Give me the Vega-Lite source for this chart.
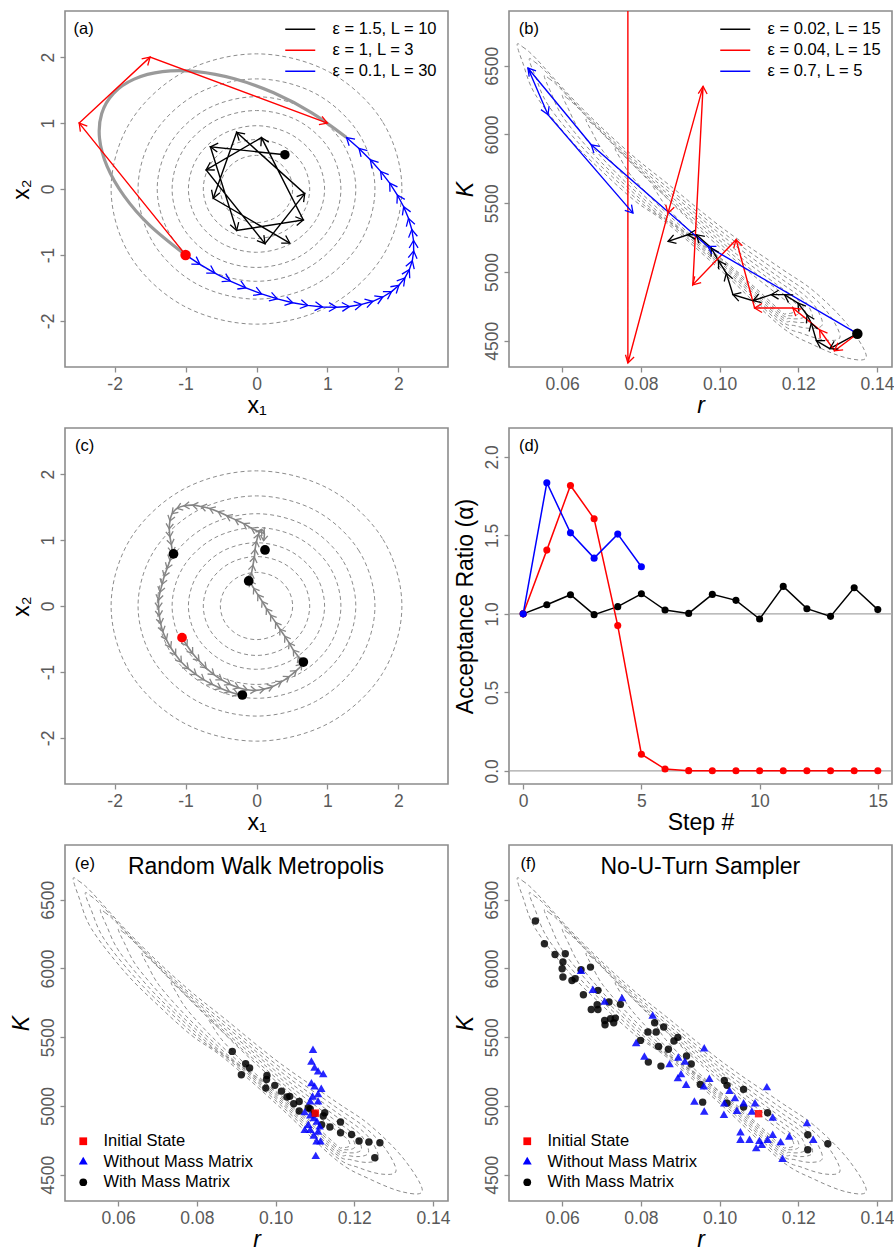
{
"$schema": "https://vega.github.io/schema/vega-lite/v6.json",
"background": "white",
"padding": {"left": 9, "top": 10, "right": 6, "bottom": 2},
"columns": 2,
"spacing": {"row": 61, "column": 61},
"bounds": "flush",
"resolve": {"scale": {"color": "independent", "shape": "independent"}, "legend": {"color": "independent", "shape": "independent"}},
"config": {
  "font": "Liberation Sans",
  "view": {"stroke": "#8c8c8c", "strokeWidth": 1.6},
  "axis": {"domain": false, "grid": false, "tickColor": "#8c8c8c", "tickSize": 5, "tickWidth": 1.3, "labelFont": "Liberation Sans", "labelFontSize": 17.5, "labelColor": "#595959", "labelPadding": 3, "labelFlush": false, "labelOverlap": false, "titleFont": "Liberation Sans", "titleFontSize": 23, "titleFontWeight": "normal", "titleColor": "#000000"},
  "axisX": {"titlePadding": 2},
  "axisY": {"labelAngle": -90, "labelAlign": "center", "labelBaseline": "bottom", "labelPadding": 3, "titlePadding": 6},
  "legend": {"labelFont": "Liberation Sans", "labelColor": "#000000"}
},
"datasets": {
  "circles": [
    {"c":1,"i":0,"x":2.05,"y":0},{"c":1,"i":1,"x":1.775,"y":1.025},{"c":1,"i":2,"x":1.025,"y":1.775},{"c":1,"i":3,"x":0,"y":2.05},{"c":1,"i":4,"x":-1.025,"y":1.775},{"c":1,"i":5,"x":-1.775,"y":1.025},{"c":1,"i":6,"x":-2.05,"y":0},{"c":1,"i":7,"x":-1.775,"y":-1.025},{"c":1,"i":8,"x":-1.025,"y":-1.775},{"c":1,"i":9,"x":0,"y":-2.05},{"c":1,"i":10,"x":1.025,"y":-1.775},{"c":1,"i":11,"x":1.775,"y":-1.025},
    {"c":2,"i":0,"x":1.67,"y":0},{"c":2,"i":1,"x":1.446,"y":0.835},{"c":2,"i":2,"x":0.835,"y":1.446},{"c":2,"i":3,"x":0,"y":1.67},{"c":2,"i":4,"x":-0.835,"y":1.446},{"c":2,"i":5,"x":-1.446,"y":0.835},{"c":2,"i":6,"x":-1.67,"y":0},{"c":2,"i":7,"x":-1.446,"y":-0.835},{"c":2,"i":8,"x":-0.835,"y":-1.446},{"c":2,"i":9,"x":0,"y":-1.67},{"c":2,"i":10,"x":0.835,"y":-1.446},{"c":2,"i":11,"x":1.446,"y":-0.835},
    {"c":3,"i":0,"x":1.4,"y":0},{"c":3,"i":1,"x":1.212,"y":0.7},{"c":3,"i":2,"x":0.7,"y":1.212},{"c":3,"i":3,"x":0,"y":1.4},{"c":3,"i":4,"x":-0.7,"y":1.212},{"c":3,"i":5,"x":-1.212,"y":0.7},{"c":3,"i":6,"x":-1.4,"y":0},{"c":3,"i":7,"x":-1.212,"y":-0.7},{"c":3,"i":8,"x":-0.7,"y":-1.212},{"c":3,"i":9,"x":0,"y":-1.4},{"c":3,"i":10,"x":0.7,"y":-1.212},{"c":3,"i":11,"x":1.212,"y":-0.7},
    {"c":4,"i":0,"x":1.19,"y":0},{"c":4,"i":1,"x":1.031,"y":0.595},{"c":4,"i":2,"x":0.595,"y":1.031},{"c":4,"i":3,"x":0,"y":1.19},{"c":4,"i":4,"x":-0.595,"y":1.031},{"c":4,"i":5,"x":-1.031,"y":0.595},{"c":4,"i":6,"x":-1.19,"y":0},{"c":4,"i":7,"x":-1.031,"y":-0.595},{"c":4,"i":8,"x":-0.595,"y":-1.031},{"c":4,"i":9,"x":0,"y":-1.19},{"c":4,"i":10,"x":0.595,"y":-1.031},{"c":4,"i":11,"x":1.031,"y":-0.595},
    {"c":5,"i":0,"x":0.96,"y":0},{"c":5,"i":1,"x":0.831,"y":0.48},{"c":5,"i":2,"x":0.48,"y":0.831},{"c":5,"i":3,"x":0,"y":0.96},{"c":5,"i":4,"x":-0.48,"y":0.831},{"c":5,"i":5,"x":-0.831,"y":0.48},{"c":5,"i":6,"x":-0.96,"y":0},{"c":5,"i":7,"x":-0.831,"y":-0.48},{"c":5,"i":8,"x":-0.48,"y":-0.831},{"c":5,"i":9,"x":0,"y":-0.96},{"c":5,"i":10,"x":0.48,"y":-0.831},{"c":5,"i":11,"x":0.831,"y":-0.48},
    {"c":6,"i":0,"x":0.75,"y":0},{"c":6,"i":1,"x":0.65,"y":0.375},{"c":6,"i":2,"x":0.375,"y":0.65},{"c":6,"i":3,"x":0,"y":0.75},{"c":6,"i":4,"x":-0.375,"y":0.65},{"c":6,"i":5,"x":-0.65,"y":0.375},{"c":6,"i":6,"x":-0.75,"y":0},{"c":6,"i":7,"x":-0.65,"y":-0.375},{"c":6,"i":8,"x":-0.375,"y":-0.65},{"c":6,"i":9,"x":0,"y":-0.75},{"c":6,"i":10,"x":0.375,"y":-0.65},{"c":6,"i":11,"x":0.65,"y":-0.375},
    {"c":7,"i":0,"x":0.51,"y":0},{"c":7,"i":1,"x":0.442,"y":0.255},{"c":7,"i":2,"x":0.255,"y":0.442},{"c":7,"i":3,"x":0,"y":0.51},{"c":7,"i":4,"x":-0.255,"y":0.442},{"c":7,"i":5,"x":-0.442,"y":0.255},{"c":7,"i":6,"x":-0.51,"y":0},{"c":7,"i":7,"x":-0.442,"y":-0.255},{"c":7,"i":8,"x":-0.255,"y":-0.442},{"c":7,"i":9,"x":0,"y":-0.51},{"c":7,"i":10,"x":0.255,"y":-0.442},{"c":7,"i":11,"x":0.442,"y":-0.255}
  ],
  "banana": [
    {"c":1,"i":0,"r":0.04857,"K":6652.7},{"c":1,"i":1,"r":0.05002,"K":6636.0},{"c":1,"i":2,"r":0.05322,"K":6556.0},{"c":1,"i":3,"r":0.0617,"K":6289.1},{"c":1,"i":4,"r":0.07016,"K":6046.9},{"c":1,"i":5,"r":0.07864,"K":5828.7},{"c":1,"i":6,"r":0.0871,"K":5634.5},{"c":1,"i":7,"r":0.10106,"K":5312.3},{"c":1,"i":8,"r":0.11544,"K":5028.7},{"c":1,"i":9,"r":0.12392,"K":4861.4},{"c":1,"i":10,"r":0.13238,"K":4621.4},{"c":1,"i":11,"r":0.13728,"K":4386.5},{"c":1,"i":12,"r":0.13238,"K":4374.2},{"c":1,"i":13,"r":0.12392,"K":4468.7},{"c":1,"i":14,"r":0.11544,"K":4606.9},{"c":1,"i":15,"r":0.10106,"K":4992.3},{"c":1,"i":16,"r":0.0871,"K":5343.6},{"c":1,"i":17,"r":0.07864,"K":5513.8},{"c":1,"i":18,"r":0.07016,"K":5732.0},{"c":1,"i":19,"r":0.0617,"K":5974.2},{"c":1,"i":20,"r":0.05322,"K":6289.1},{"c":1,"i":21,"r":0.05002,"K":6519.6},
    {"c":2,"i":0,"r":0.051636,"K":6545.7},{"c":2,"i":1,"r":0.052964,"K":6529.1},{"c":2,"i":2,"r":0.055986,"K":6452.8},{"c":2,"i":3,"r":0.064146,"K":6202.0},{"c":2,"i":4,"r":0.072219,"K":5973.4},{"c":2,"i":5,"r":0.080289,"K":5766.5},{"c":2,"i":6,"r":0.088293,"K":5580.2},{"c":2,"i":7,"r":0.101485,"K":5273.1},{"c":2,"i":8,"r":0.115002,"K":4998.2},{"c":2,"i":9,"r":0.122381,"K":4851.8},{"c":2,"i":10,"r":0.127786,"K":4693.0},{"c":2,"i":11,"r":0.130599,"K":4528.4},{"c":2,"i":12,"r":0.126921,"K":4504.7},{"c":2,"i":13,"r":0.121023,"K":4552.7},{"c":2,"i":14,"r":0.115228,"K":4633.6},{"c":2,"i":15,"r":0.102046,"K":4987.0},{"c":2,"i":16,"r":0.088785,"K":5320.0},{"c":2,"i":17,"r":0.080831,"K":5485.1},{"c":2,"i":18,"r":0.072763,"K":5691.9},{"c":2,"i":19,"r":0.064706,"K":5920.1},{"c":2,"i":20,"r":0.05644,"K":6214.3},{"c":2,"i":21,"r":0.053163,"K":6425.4},
    {"c":3,"i":0,"r":0.055466,"K":6422.9},{"c":3,"i":1,"r":0.056683,"K":6406.5},{"c":3,"i":2,"r":0.059512,"K":6334.9},{"c":3,"i":3,"r":0.067223,"K":6102.2},{"c":3,"i":4,"r":0.074821,"K":5889.1},{"c":3,"i":5,"r":0.082383,"K":5695.2},{"c":3,"i":6,"r":0.089852,"K":5519.9},{"c":3,"i":7,"r":0.102165,"K":5230.6},{"c":3,"i":8,"r":0.114719,"K":4969.5},{"c":3,"i":9,"r":0.121194,"K":4839.8},{"c":3,"i":10,"r":0.124614,"K":4734.9},{"c":3,"i":11,"r":0.126108,"K":4618.2},{"c":3,"i":12,"r":0.123322,"K":4589.8},{"c":3,"i":13,"r":0.119153,"K":4609.3},{"c":3,"i":14,"r":0.115175,"K":4654.0},{"c":3,"i":15,"r":0.103113,"K":4976.2},{"c":3,"i":16,"r":0.090699,"K":5288.4},{"c":3,"i":17,"r":0.083307,"K":5445.0},{"c":3,"i":18,"r":0.075747,"K":5638.8},{"c":3,"i":19,"r":0.068165,"K":5851.4},{"c":3,"i":20,"r":0.060292,"K":6122.8},{"c":3,"i":21,"r":0.057022,"K":6314.3},
    {"c":4,"i":0,"r":0.06004,"K":6282.9},{"c":4,"i":1,"r":0.061139,"K":6267.2},{"c":4,"i":2,"r":0.063744,"K":6201.2},{"c":4,"i":3,"r":0.070903,"K":5988.5},{"c":4,"i":4,"r":0.077932,"K":5793.1},{"c":4,"i":5,"r":0.0849,"K":5614.6},{"c":4,"i":6,"r":0.091759,"K":5452.2},{"c":4,"i":7,"r":0.103064,"K":5184.4},{"c":4,"i":8,"r":0.11454,"K":4941.0},{"c":4,"i":9,"r":0.120279,"K":4824.2},{"c":4,"i":10,"r":0.122686,"K":4748.0},{"c":4,"i":11,"r":0.123592,"K":4659.4},{"c":4,"i":12,"r":0.121395,"K":4632.5},{"c":4,"i":13,"r":0.118238,"K":4640.7},{"c":4,"i":14,"r":0.115278,"K":4668.9},{"c":4,"i":15,"r":0.10429,"K":4961.3},{"c":4,"i":16,"r":0.092859,"K":5249.2},{"c":4,"i":17,"r":0.086099,"K":5395.0},{"c":4,"i":18,"r":0.079132,"K":5573.5},{"c":4,"i":19,"r":0.072117,"K":5768.6},{"c":4,"i":20,"r":0.064756,"K":6015.2},{"c":4,"i":21,"r":0.061578,"K":6186.3},
    {"c":5,"i":0,"r":0.066035,"K":6106.8},{"c":5,"i":1,"r":0.066993,"K":6092.1},{"c":5,"i":2,"r":0.069312,"K":6033.3},{"c":5,"i":3,"r":0.075732,"K":5845.5},{"c":5,"i":4,"r":0.082014,"K":5672.3},{"c":5,"i":5,"r":0.088218,"K":5513.4},{"c":5,"i":6,"r":0.094305,"K":5368.2},{"c":5,"i":7,"r":0.104336,"K":5128.8},{"c":5,"i":8,"r":0.114475,"K":4909.5},{"c":5,"i":9,"r":0.119445,"K":4806.4},{"c":5,"i":10,"r":0.121193,"K":4750.1},{"c":5,"i":11,"r":0.12178,"K":4682.6},{"c":5,"i":12,"r":0.120073,"K":4659.8},{"c":5,"i":13,"r":0.117674,"K":4663.1},{"c":5,"i":14,"r":0.11545,"K":4682.0},{"c":5,"i":15,"r":0.105727,"K":4939.9},{"c":5,"i":16,"r":0.095558,"K":5196.3},{"c":5,"i":17,"r":0.089581,"K":5327.5},{"c":5,"i":18,"r":0.083378,"K":5486.4},{"c":5,"i":19,"r":0.077108,"K":5659.2},{"c":5,"i":20,"r":0.070464,"K":5875.8},{"c":5,"i":21,"r":0.067495,"K":6023.7},
    {"c":6,"i":0,"r":0.07345,"K":5894.3},{"c":6,"i":1,"r":0.074247,"K":5881.3},{"c":6,"i":2,"r":0.076216,"K":5831.4},{"c":6,"i":3,"r":0.081709,"K":5673.1},{"c":6,"i":4,"r":0.087067,"K":5526.7},{"c":6,"i":5,"r":0.092337,"K":5391.9},{"c":6,"i":6,"r":0.097488,"K":5267.9},{"c":6,"i":7,"r":0.105979,"K":5063.6},{"c":6,"i":8,"r":0.114522,"K":4875.3},{"c":6,"i":9,"r":0.118629,"K":4788.2},{"c":6,"i":10,"r":0.119807,"K":4749.4},{"c":6,"i":11,"r":0.120145,"K":4701.4},{"c":6,"i":12,"r":0.118903,"K":4683.3},{"c":6,"i":13,"r":0.117199,"K":4683.3},{"c":6,"i":14,"r":0.115637,"K":4694.8},{"c":6,"i":15,"r":0.107425,"K":4911.6},{"c":6,"i":16,"r":0.098794,"K":5129.7},{"c":6,"i":17,"r":0.093754,"K":5242.3},{"c":6,"i":18,"r":0.088485,"K":5377.1},{"c":6,"i":19,"r":0.083138,"K":5523.3},{"c":6,"i":20,"r":0.077415,"K":5704.7},{"c":6,"i":21,"r":0.074769,"K":5826.2},
    {"c":7,"i":0,"r":0.082996,"K":5627.4},{"c":7,"i":1,"r":0.083601,"K":5616.9},{"c":7,"i":2,"r":0.085124,"K":5578.2},{"c":7,"i":3,"r":0.089411,"K":5456.8},{"c":7,"i":4,"r":0.093576,"K":5344.1},{"c":7,"i":5,"r":0.097656,"K":5239.5},{"c":7,"i":6,"r":0.10163,"K":5143.2},{"c":7,"i":7,"r":0.10818,"K":4984.3},{"c":7,"i":8,"r":0.114737,"K":4836.7},{"c":7,"i":9,"r":0.117852,"K":4769.0},{"c":7,"i":10,"r":0.118638,"K":4743.0},{"c":7,"i":11,"r":0.118863,"K":4711.1},{"c":7,"i":12,"r":0.118035,"K":4699.1},{"c":7,"i":13,"r":0.116899,"K":4699.0},{"c":7,"i":14,"r":0.115858,"K":4706.7},{"c":7,"i":15,"r":0.109514,"K":4873.5},{"c":7,"i":16,"r":0.102836,"K":5042.5},{"c":7,"i":17,"r":0.098965,"K":5130.6},{"c":7,"i":18,"r":0.094886,"K":5235.0},{"c":7,"i":19,"r":0.090728,"K":5347.5},{"c":7,"i":20,"r":0.086232,"K":5485.8},{"c":7,"i":21,"r":0.084082,"K":5576.7}
  ],
  "grayA": [
    {"i":0,"x":1.269,"y":0.78},{"i":1,"x":0.78,"y":1.155},{"i":2,"x":0.242,"y":1.459},{"i":3,"x":-0.311,"y":1.672},{"i":4,"x":-0.845,"y":1.781},{"i":5,"x":-1.326,"y":1.78},{"i":6,"x":-1.725,"y":1.667},{"i":7,"x":-2.016,"y":1.451},{"i":8,"x":-2.182,"y":1.145},{"i":9,"x":-2.213,"y":0.768},{"i":10,"x":-2.106,"y":0.343},{"i":11,"x":-1.868,"y":-0.104},{"i":12,"x":-1.513,"y":-0.544},{"i":13,"x":-1,"y":-1}
  ],
  "pathsA": [
    {"s":"ε = 1.5, L = 10","i":0,"x":0.4,"y":0.52},{"s":"ε = 1.5, L = 10","i":1,"x":-0.65,"y":0.64},{"s":"ε = 1.5, L = 10","i":2,"x":-0.28,"y":-0.63},{"s":"ε = 1.5, L = 10","i":3,"x":0.66,"y":-0.47},{"s":"ε = 1.5, L = 10","i":4,"x":0.07,"y":0.78},{"s":"ε = 1.5, L = 10","i":5,"x":-0.71,"y":0.29},{"s":"ε = 1.5, L = 10","i":6,"x":0.12,"y":-0.83},{"s":"ε = 1.5, L = 10","i":7,"x":0.68,"y":-0.07},{"s":"ε = 1.5, L = 10","i":8,"x":-0.28,"y":0.86},{"s":"ε = 1.5, L = 10","i":9,"x":-0.61,"y":-0.14},{"s":"ε = 1.5, L = 10","i":10,"x":0.47,"y":-0.82},
    {"s":"ε = 1, L = 3","i":0,"x":-1,"y":-1},{"s":"ε = 1, L = 3","i":1,"x":-2.5,"y":1},{"s":"ε = 1, L = 3","i":2,"x":-1.5,"y":2},{"s":"ε = 1, L = 3","i":3,"x":1,"y":1},
    {"s":"ε = 0.1, L = 30","i":0,"x":-1,"y":-1},{"s":"ε = 0.1, L = 30","i":1,"x":-0.797,"y":-1.144},{"s":"ε = 0.1, L = 30","i":2,"x":-0.587,"y":-1.276},{"s":"ε = 0.1, L = 30","i":3,"x":-0.37,"y":-1.396},{"s":"ε = 0.1, L = 30","i":4,"x":-0.15,"y":-1.501},{"s":"ε = 0.1, L = 30","i":5,"x":0.072,"y":-1.592},{"s":"ε = 0.1, L = 30","i":6,"x":0.293,"y":-1.667},{"s":"ε = 0.1, L = 30","i":7,"x":0.511,"y":-1.725},{"s":"ε = 0.1, L = 30","i":8,"x":0.724,"y":-1.766},{"s":"ε = 0.1, L = 30","i":9,"x":0.929,"y":-1.789},{"s":"ε = 0.1, L = 30","i":10,"x":1.126,"y":-1.794},{"s":"ε = 0.1, L = 30","i":11,"x":1.311,"y":-1.782},{"s":"ε = 0.1, L = 30","i":12,"x":1.483,"y":-1.751},{"s":"ε = 0.1, L = 30","i":13,"x":1.64,"y":-1.703},{"s":"ε = 0.1, L = 30","i":14,"x":1.781,"y":-1.638},{"s":"ε = 0.1, L = 30","i":15,"x":1.904,"y":-1.557},{"s":"ε = 0.1, L = 30","i":16,"x":2.008,"y":-1.46},{"s":"ε = 0.1, L = 30","i":17,"x":2.092,"y":-1.349},{"s":"ε = 0.1, L = 30","i":18,"x":2.155,"y":-1.224},{"s":"ε = 0.1, L = 30","i":19,"x":2.197,"y":-1.087},{"s":"ε = 0.1, L = 30","i":20,"x":2.216,"y":-0.939},{"s":"ε = 0.1, L = 30","i":21,"x":2.214,"y":-0.781},{"s":"ε = 0.1, L = 30","i":22,"x":2.19,"y":-0.616},{"s":"ε = 0.1, L = 30","i":23,"x":2.143,"y":-0.445},{"s":"ε = 0.1, L = 30","i":24,"x":2.075,"y":-0.269},{"s":"ε = 0.1, L = 30","i":25,"x":1.986,"y":-0.091},{"s":"ε = 0.1, L = 30","i":26,"x":1.878,"y":0.089},{"s":"ε = 0.1, L = 30","i":27,"x":1.75,"y":0.267},{"s":"ε = 0.1, L = 30","i":28,"x":1.605,"y":0.443},{"s":"ε = 0.1, L = 30","i":29,"x":1.445,"y":0.615},{"s":"ε = 0.1, L = 30","i":30,"x":1.269,"y":0.78}
  ],
  "pathsB": [
    {"s":"ε = 0.02, L = 15","i":0,"r":0.135,"K":4551},{"s":"ε = 0.02, L = 15","i":1,"r":0.128,"K":4442},{"s":"ε = 0.02, L = 15","i":2,"r":0.1246,"K":4500},{"s":"ε = 0.02, L = 15","i":3,"r":0.1233,"K":4628},{"s":"ε = 0.02, L = 15","i":4,"r":0.1222,"K":4689},{"s":"ε = 0.02, L = 15","i":5,"r":0.1199,"K":4774},{"s":"ε = 0.02, L = 15","i":6,"r":0.1165,"K":4835},{"s":"ε = 0.02, L = 15","i":7,"r":0.1131,"K":4835},{"s":"ε = 0.02, L = 15","i":8,"r":0.1085,"K":4791},{"s":"ε = 0.02, L = 15","i":9,"r":0.1034,"K":4835},{"s":"ε = 0.02, L = 15","i":10,"r":0.1017,"K":4992},{"s":"ε = 0.02, L = 15","i":11,"r":0.0997,"K":5082},{"s":"ε = 0.02, L = 15","i":12,"r":0.0979,"K":5174},{"s":"ε = 0.02, L = 15","i":13,"r":0.0941,"K":5271},{"s":"ε = 0.02, L = 15","i":14,"r":0.0919,"K":5271},{"s":"ε = 0.02, L = 15","i":15,"r":0.0869,"K":5222},
    {"s":"ε = 0.04, L = 15","i":0,"r":0.135,"K":4551},{"s":"ε = 0.04, L = 15","i":1,"r":0.1292,"K":4427},{"s":"ε = 0.04, L = 15","i":2,"r":0.1254,"K":4580},{"s":"ε = 0.04, L = 15","i":3,"r":0.1186,"K":4738},{"s":"ε = 0.04, L = 15","i":4,"r":0.1089,"K":4738},{"s":"ε = 0.04, L = 15","i":5,"r":0.1042,"K":5235},{"s":"ε = 0.04, L = 15","i":6,"r":0.0932,"K":4907},{"s":"ε = 0.04, L = 15","i":7,"r":0.0958,"K":6350},{"s":"ε = 0.04, L = 15","i":8,"r":0.0869,"K":5428},{"s":"ε = 0.04, L = 15","i":9,"r":0.0767,"K":4338},{"s":"ε = 0.04, L = 15","i":10,"r":0.0767,"K":9500},
    {"s":"ε = 0.7, L = 5","i":0,"r":0.135,"K":4551},{"s":"ε = 0.7, L = 5","i":1,"r":0.097,"K":5186},{"s":"ε = 0.7, L = 5","i":2,"r":0.0674,"K":5925},{"s":"ε = 0.7, L = 5","i":3,"r":0.0513,"K":6483},{"s":"ε = 0.7, L = 5","i":4,"r":0.0564,"K":6144},{"s":"ε = 0.7, L = 5","i":5,"r":0.078,"K":5428}
  ],
  "pathsC": [
    {"s":"p1","i":0,"x":-1.05,"y":-0.48},{"s":"p1","i":1,"x":-0.98,"y":-0.6},{"s":"p1","i":2,"x":-0.9,"y":-0.72},{"s":"p1","i":3,"x":-0.81,"y":-0.83},{"s":"p1","i":4,"x":-0.71,"y":-0.94},{"s":"p1","i":5,"x":-0.6,"y":-1.04},{"s":"p1","i":6,"x":-0.49,"y":-1.12},{"s":"p1","i":7,"x":-0.37,"y":-1.19},{"s":"p1","i":8,"x":-0.25,"y":-1.24},{"s":"p1","i":9,"x":-0.13,"y":-1.27},{"s":"p1","i":10,"x":-0.01,"y":-1.28},{"s":"p1","i":11,"x":0.11,"y":-1.26},{"s":"p1","i":12,"x":0.23,"y":-1.22},{"s":"p1","i":13,"x":0.35,"y":-1.15},{"s":"p1","i":14,"x":0.46,"y":-1.07},{"s":"p1","i":15,"x":0.56,"y":-0.98},{"s":"p1","i":16,"x":0.64,"y":-0.88},{"s":"p1","i":17,"x":0.59,"y":-0.77},{"s":"p1","i":18,"x":0.52,"y":-0.67},{"s":"p1","i":19,"x":0.46,"y":-0.56},{"s":"p1","i":20,"x":0.4,"y":-0.46},{"s":"p1","i":21,"x":0.33,"y":-0.35},{"s":"p1","i":22,"x":0.27,"y":-0.25},{"s":"p1","i":23,"x":0.2,"y":-0.14},{"s":"p1","i":24,"x":0.14,"y":-0.04},{"s":"p1","i":25,"x":0.08,"y":0.07},{"s":"p1","i":26,"x":0.02,"y":0.17},{"s":"p1","i":27,"x":-0.04,"y":0.27},{"s":"p1","i":28,"x":-0.09,"y":0.38},{"s":"p1","i":29,"x":-0.07,"y":0.5},{"s":"p1","i":30,"x":-0.05,"y":0.62},{"s":"p1","i":31,"x":-0.03,"y":0.74},{"s":"p1","i":32,"x":-0.02,"y":0.86},{"s":"p1","i":33,"x":0,"y":0.98},{"s":"p1","i":34,"x":0.03,"y":1.09},{"s":"p1","i":35,"x":0.07,"y":1.16},{"s":"p1","i":36,"x":0.11,"y":1.1},{"s":"p1","i":37,"x":0.1,"y":0.99},
    {"s":"p2","i":0,"x":0.04,"y":1.12},{"s":"p2","i":1,"x":-0.07,"y":1.18},{"s":"p2","i":2,"x":-0.18,"y":1.25},{"s":"p2","i":3,"x":-0.3,"y":1.31},{"s":"p2","i":4,"x":-0.42,"y":1.37},{"s":"p2","i":5,"x":-0.54,"y":1.43},{"s":"p2","i":6,"x":-0.66,"y":1.48},{"s":"p2","i":7,"x":-0.78,"y":1.51},{"s":"p2","i":8,"x":-0.9,"y":1.53},{"s":"p2","i":9,"x":-1.02,"y":1.52},{"s":"p2","i":10,"x":-1.12,"y":1.48},{"s":"p2","i":11,"x":-1.19,"y":1.4},{"s":"p2","i":12,"x":-1.22,"y":1.29},{"s":"p2","i":13,"x":-1.23,"y":1.17},{"s":"p2","i":14,"x":-1.22,"y":1.05},{"s":"p2","i":15,"x":-1.2,"y":0.93},{"s":"p2","i":16,"x":-1.19,"y":0.81},{"s":"p2","i":17,"x":-1.22,"y":0.69},{"s":"p2","i":18,"x":-1.26,"y":0.57},{"s":"p2","i":19,"x":-1.3,"y":0.45},{"s":"p2","i":20,"x":-1.33,"y":0.33},{"s":"p2","i":21,"x":-1.36,"y":0.21},{"s":"p2","i":22,"x":-1.38,"y":0.09},{"s":"p2","i":23,"x":-1.38,"y":-0.03},{"s":"p2","i":24,"x":-1.37,"y":-0.15},{"s":"p2","i":25,"x":-1.35,"y":-0.27},{"s":"p2","i":26,"x":-1.32,"y":-0.39},{"s":"p2","i":27,"x":-1.27,"y":-0.51},{"s":"p2","i":28,"x":-1.21,"y":-0.63},{"s":"p2","i":29,"x":-1.14,"y":-0.74},{"s":"p2","i":30,"x":-1.06,"y":-0.85},{"s":"p2","i":31,"x":-0.96,"y":-0.95},{"s":"p2","i":32,"x":-0.85,"y":-1.04},{"s":"p2","i":33,"x":-0.74,"y":-1.12},{"s":"p2","i":34,"x":-0.62,"y":-1.19},{"s":"p2","i":35,"x":-0.5,"y":-1.25},{"s":"p2","i":36,"x":-0.38,"y":-1.3},{"s":"p2","i":37,"x":-0.26,"y":-1.34}
  ],
  "acc": [
    {"s":"b","step":0,"a":1.0},{"s":"b","step":1,"a":1.058},{"s":"b","step":2,"a":1.122},{"s":"b","step":3,"a":0.995},{"s":"b","step":4,"a":1.046},{"s":"b","step":5,"a":1.128},{"s":"b","step":6,"a":1.024},{"s":"b","step":7,"a":1.003},{"s":"b","step":8,"a":1.124},{"s":"b","step":9,"a":1.086},{"s":"b","step":10,"a":0.967},{"s":"b","step":11,"a":1.175},{"s":"b","step":12,"a":1.033},{"s":"b","step":13,"a":0.984},{"s":"b","step":14,"a":1.166},{"s":"b","step":15,"a":1.027},
    {"s":"r","step":0,"a":1.0},{"s":"r","step":1,"a":1.406},{"s":"r","step":2,"a":1.818},{"s":"r","step":3,"a":1.606},{"s":"r","step":4,"a":0.925},{"s":"r","step":5,"a":0.106},{"s":"r","step":6,"a":0.011},{"s":"r","step":7,"a":0.001},{"s":"r","step":8,"a":0.0},{"s":"r","step":9,"a":0.0},{"s":"r","step":10,"a":0.0},{"s":"r","step":11,"a":0.0},{"s":"r","step":12,"a":0.0},{"s":"r","step":13,"a":0.0},{"s":"r","step":14,"a":0.0},{"s":"r","step":15,"a":0.0},
    {"s":"u","step":0,"a":1.0},{"s":"u","step":1,"a":1.835},{"s":"u","step":2,"a":1.516},{"s":"u","step":3,"a":1.355},{"s":"u","step":4,"a":1.508},{"s":"u","step":5,"a":1.3}
  ],
  "rwm": [
    {"g":"With Mass Matrix","r":0.089,"K":5397},{"g":"With Mass Matrix","r":0.0924,"K":5307},{"g":"With Mass Matrix","r":0.0934,"K":5276},{"g":"With Mass Matrix","r":0.0913,"K":5227},{"g":"With Mass Matrix","r":0.0978,"K":5222},{"g":"With Mass Matrix","r":0.0977,"K":5193},{"g":"With Mass Matrix","r":0.0975,"K":5130},{"g":"With Mass Matrix","r":0.0998,"K":5150},{"g":"With Mass Matrix","r":0.1015,"K":5108},{"g":"With Mass Matrix","r":0.1029,"K":5065},{"g":"With Mass Matrix","r":0.1036,"K":5070},{"g":"With Mass Matrix","r":0.1046,"K":5016},{"g":"With Mass Matrix","r":0.106,"K":5033},{"g":"With Mass Matrix","r":0.106,"K":4963},{"g":"With Mass Matrix","r":0.1083,"K":4987},{"g":"With Mass Matrix","r":0.1088,"K":4978},{"g":"With Mass Matrix","r":0.1099,"K":4944},{"g":"With Mass Matrix","r":0.1125,"K":4951},{"g":"With Mass Matrix","r":0.1121,"K":4927},{"g":"With Mass Matrix","r":0.1117,"K":4864},{"g":"With Mass Matrix","r":0.1138,"K":4847},{"g":"With Mass Matrix","r":0.1165,"K":4883},{"g":"With Mass Matrix","r":0.1165,"K":4805},{"g":"With Mass Matrix","r":0.1193,"K":4793},{"g":"With Mass Matrix","r":0.1212,"K":4745},{"g":"With Mass Matrix","r":0.1237,"K":4738},{"g":"With Mass Matrix","r":0.1265,"K":4733},{"g":"With Mass Matrix","r":0.1252,"K":4624},
    {"g":"Without Mass Matrix","r":0.1095,"K":5404},{"g":"Without Mass Matrix","r":0.1091,"K":5319},{"g":"Without Mass Matrix","r":0.1099,"K":5276},{"g":"Without Mass Matrix","r":0.1108,"K":5247},{"g":"Without Mass Matrix","r":0.1121,"K":5227},{"g":"Without Mass Matrix","r":0.1091,"K":5162},{"g":"Without Mass Matrix","r":0.1099,"K":5138},{"g":"Without Mass Matrix","r":0.1116,"K":5121},{"g":"Without Mass Matrix","r":0.1108,"K":5082},{"g":"Without Mass Matrix","r":0.1094,"K":5065},{"g":"Without Mass Matrix","r":0.1088,"K":5029},{"g":"Without Mass Matrix","r":0.1108,"K":5029},{"g":"Without Mass Matrix","r":0.1074,"K":4951},{"g":"Without Mass Matrix","r":0.1088,"K":4927},{"g":"Without Mass Matrix","r":0.1097,"K":4907},{"g":"Without Mass Matrix","r":0.1105,"K":4883},{"g":"Without Mass Matrix","r":0.1083,"K":4859},{"g":"Without Mass Matrix","r":0.1112,"K":4847},{"g":"Without Mass Matrix","r":0.1088,"K":4822},{"g":"Without Mass Matrix","r":0.1108,"K":4810},{"g":"Without Mass Matrix","r":0.1097,"K":4781},{"g":"Without Mass Matrix","r":0.1114,"K":4738},{"g":"Without Mass Matrix","r":0.1104,"K":4738},{"g":"Without Mass Matrix","r":0.1102,"K":4633},{"g":"Without Mass Matrix","r":0.1074,"K":4822},
    {"g":"Initial State","r":0.1101,"K":4948}
  ],
  "nuts": [
    {"g":"With Mass Matrix","r":0.0532,"K":6345},{"g":"With Mass Matrix","r":0.0555,"K":6180},{"g":"With Mass Matrix","r":0.0582,"K":6102},{"g":"With Mass Matrix","r":0.0608,"K":6107},{"g":"With Mass Matrix","r":0.0602,"K":6047},{"g":"With Mass Matrix","r":0.06,"K":5998},{"g":"With Mass Matrix","r":0.0602,"K":5938},{"g":"With Mass Matrix","r":0.0625,"K":5913},{"g":"With Mass Matrix","r":0.0633,"K":5925},{"g":"With Mass Matrix","r":0.0648,"K":5991},{"g":"With Mass Matrix","r":0.0672,"K":6010},{"g":"With Mass Matrix","r":0.0654,"K":5809},{"g":"With Mass Matrix","r":0.0691,"K":5841},{"g":"With Mass Matrix","r":0.0689,"K":5736},{"g":"With Mass Matrix","r":0.0674,"K":5702},{"g":"With Mass Matrix","r":0.0691,"K":5702},{"g":"With Mass Matrix","r":0.0719,"K":5756},{"g":"With Mass Matrix","r":0.0748,"K":5739},{"g":"With Mass Matrix","r":0.0708,"K":5622},{"g":"With Mass Matrix","r":0.0709,"K":5591},{"g":"With Mass Matrix","r":0.0723,"K":5635},{"g":"With Mass Matrix","r":0.0731,"K":5605},{"g":"With Mass Matrix","r":0.0735,"K":5639},{"g":"With Mass Matrix","r":0.0799,"K":5477},{"g":"With Mass Matrix","r":0.0818,"K":5538},{"g":"With Mass Matrix","r":0.0835,"K":5605},{"g":"With Mass Matrix","r":0.0839,"K":5538},{"g":"With Mass Matrix","r":0.0858,"K":5574},{"g":"With Mass Matrix","r":0.0845,"K":5433},{"g":"With Mass Matrix","r":0.087,"K":5412},{"g":"With Mass Matrix","r":0.0851,"K":5290},{"g":"With Mass Matrix","r":0.0819,"K":5319},{"g":"With Mass Matrix","r":0.0884,"K":5472},{"g":"With Mass Matrix","r":0.0894,"K":5499},{"g":"With Mass Matrix","r":0.0916,"K":5363},{"g":"With Mass Matrix","r":0.0928,"K":5305},{"g":"With Mass Matrix","r":0.0951,"K":5157},{"g":"With Mass Matrix","r":0.0957,"K":5028},{"g":"With Mass Matrix","r":0.1012,"K":5186},{"g":"With Mass Matrix","r":0.1019,"K":5150},{"g":"With Mass Matrix","r":0.1019,"K":5021},{"g":"With Mass Matrix","r":0.1061,"K":5121},{"g":"With Mass Matrix","r":0.1061,"K":4992},{"g":"With Mass Matrix","r":0.1122,"K":4951},{"g":"With Mass Matrix","r":0.1224,"K":4791},{"g":"With Mass Matrix","r":0.1224,"K":4682},{"g":"With Mass Matrix","r":0.1275,"K":4725},
    {"g":"Without Mass Matrix","r":0.0648,"K":5979},{"g":"Without Mass Matrix","r":0.0678,"K":5841},{"g":"Without Mass Matrix","r":0.0708,"K":5756},{"g":"Without Mass Matrix","r":0.0752,"K":5780},{"g":"Without Mass Matrix","r":0.0788,"K":5453},{"g":"Without Mass Matrix","r":0.0809,"K":5356},{"g":"Without Mass Matrix","r":0.083,"K":5654},{"g":"Without Mass Matrix","r":0.0873,"K":5300},{"g":"Without Mass Matrix","r":0.0895,"K":5348},{"g":"Without Mass Matrix","r":0.0902,"K":5227},{"g":"Without Mass Matrix","r":0.0894,"K":5198},{"g":"Without Mass Matrix","r":0.0912,"K":5319},{"g":"Without Mass Matrix","r":0.0915,"K":5150},{"g":"Without Mass Matrix","r":0.0961,"K":5416},{"g":"Without Mass Matrix","r":0.0936,"K":5028},{"g":"Without Mass Matrix","r":0.0961,"K":4956},{"g":"Without Mass Matrix","r":0.096,"K":5138},{"g":"Without Mass Matrix","r":0.0974,"K":5193},{"g":"Without Mass Matrix","r":0.1011,"K":4932},{"g":"Without Mass Matrix","r":0.1012,"K":5016},{"g":"Without Mass Matrix","r":0.1025,"K":5106},{"g":"Without Mass Matrix","r":0.1039,"K":5053},{"g":"Without Mass Matrix","r":0.1044,"K":4961},{"g":"Without Mass Matrix","r":0.1053,"K":4805},{"g":"Without Mass Matrix","r":0.1053,"K":4750},{"g":"Without Mass Matrix","r":0.1061,"K":5016},{"g":"Without Mass Matrix","r":0.1076,"K":4750},{"g":"Without Mass Matrix","r":0.1082,"K":4956},{"g":"Without Mass Matrix","r":0.109,"K":5016},{"g":"Without Mass Matrix","r":0.1093,"K":4689},{"g":"Without Mass Matrix","r":0.1101,"K":4742},{"g":"Without Mass Matrix","r":0.1107,"K":4713},{"g":"Without Mass Matrix","r":0.112,"K":5133},{"g":"Without Mass Matrix","r":0.1122,"K":4750},{"g":"Without Mass Matrix","r":0.1135,"K":4912},{"g":"Without Mass Matrix","r":0.1135,"K":4786},{"g":"Without Mass Matrix","r":0.1155,"K":4733},{"g":"Without Mass Matrix","r":0.116,"K":4612},{"g":"Without Mass Matrix","r":0.1177,"K":4774},{"g":"Without Mass Matrix","r":0.1222,"K":4871},{"g":"Without Mass Matrix","r":0.1238,"K":4750},
    {"g":"Initial State","r":0.1099,"K":4944}
  ]
},
"concat": [
  {
    "width": 383, "height": 356,
    "layer": [
      {"data": {"name": "circles"},
       "mark": {"type": "line", "interpolate": "cardinal-closed", "color": "#8c8c8c", "strokeWidth": 1, "strokeDash": [4, 3], "clip": true},
       "encoding": {
         "x": {"field": "x", "type": "quantitative", "scale": {"domain": [-2.7, 2.7], "nice": false, "zero": false}, "axis": {"values": [-2, -1, 0, 1, 2], "format": "d", "title": "x₁", "labelExpr": "replace(datum.label, '−', '-')"}},
         "y": {"field": "y", "type": "quantitative", "scale": {"domain": [-2.7, 2.7], "nice": false, "zero": false}, "axis": {"values": [-2, -1, 0, 1, 2], "format": "d", "title": "x₂", "labelExpr": "replace(datum.label, '−', '-')"}},
         "detail": {"field": "c", "type": "nominal"},
         "order": {"field": "i", "type": "quantitative"}}},
      {"data": {"name": "grayA"},
       "mark": {"type": "line", "interpolate": "cardinal", "color": "#9a9a9a", "strokeWidth": 3.2, "clip": true},
       "encoding": {"x": {"field": "x", "type": "quantitative"}, "y": {"field": "y", "type": "quantitative"}, "order": {"field": "i", "type": "quantitative"}}},
      {"data": {"name": "pathsA"},
       "mark": {"type": "line", "strokeWidth": 1.4, "clip": true},
       "encoding": {"x": {"field": "x", "type": "quantitative"}, "y": {"field": "y", "type": "quantitative"},
         "color": {"field": "s", "type": "nominal", "scale": {"domain": ["ε = 1.5, L = 10", "ε = 1, L = 3", "ε = 0.1, L = 30"], "range": ["#000000", "#ff0000", "#0000ff"]},
           "legend": {"orient": "top-right", "title": null, "symbolType": "M-3,0L3,0", "symbolSize": 100, "symbolStrokeWidth": 1.5, "labelFontSize": 16.5, "labelOffset": 24, "rowPadding": 4, "offset": 8, "padding": 2}},
         "order": {"field": "i", "type": "quantitative"}}},
      {"data": {"name": "pathsA"},
       "transform": [
         {"window": [{"op": "lag", "field": "x", "as": "px"}, {"op": "lag", "field": "y", "as": "py"}], "groupby": ["s"], "sort": [{"field": "i", "order": "ascending"}]},
         {"filter": "isValid(datum.px)"},
         {"calculate": "atan2(-(datum.y - datum.py) * 65.93, (datum.x - datum.px) * 70.93) * 180 / PI", "as": "ang"}],
       "mark": {"type": "point", "shape": "M-1,-0.6L0,0L-1,0.6", "filled": false, "strokeWidth": 1.3, "size": 220, "opacity": 1, "clip": true},
       "encoding": {"x": {"field": "x", "type": "quantitative"}, "y": {"field": "y", "type": "quantitative"},
         "color": {"field": "s", "type": "nominal", "legend": {"orient": "top-right", "title": null, "symbolType": "M-3,0L3,0", "symbolSize": 100, "symbolStrokeWidth": 1.5, "labelFontSize": 16.5, "labelOffset": 24, "rowPadding": 4, "offset": 8, "padding": 2}},
         "angle": {"field": "ang", "type": "quantitative", "scale": null}}},
      {"data": {"values": [{"x": -1, "y": -1}]},
       "mark": {"type": "point", "filled": true, "color": "#ff0000", "size": 110, "opacity": 1},
       "encoding": {"x": {"field": "x", "type": "quantitative"}, "y": {"field": "y", "type": "quantitative"}}},
      {"data": {"values": [{"x": 0.4, "y": 0.52}]},
       "mark": {"type": "point", "filled": true, "color": "#000000", "size": 90, "opacity": 1},
       "encoding": {"x": {"field": "x", "type": "quantitative"}, "y": {"field": "y", "type": "quantitative"}}},
      {"data": {"values": [{"x": -2.58, "y": 2.42, "t": "(a)"}]},
       "mark": {"type": "text", "align": "left", "baseline": "middle", "fontSize": 16.5},
       "encoding": {"x": {"field": "x", "type": "quantitative"}, "y": {"field": "y", "type": "quantitative"}, "text": {"field": "t"}}}
    ]
  },
  {
    "width": 383, "height": 356,
    "layer": [
      {"data": {"name": "banana"},
       "mark": {"type": "line", "interpolate": "cardinal-closed", "color": "#8c8c8c", "strokeWidth": 1, "strokeDash": [4, 3], "clip": true},
       "encoding": {
         "x": {"field": "r", "type": "quantitative", "scale": {"domain": [0.0465, 0.1438], "nice": false, "zero": false}, "axis": {"values": [0.06, 0.08, 0.1, 0.12, 0.14], "format": ".2f", "title": "r", "titleFontStyle": "italic"}},
         "y": {"field": "K", "type": "quantitative", "scale": {"domain": [4309, 6898], "nice": false, "zero": false}, "axis": {"values": [4500, 5000, 5500, 6000, 6500], "format": "d", "title": "K", "titleFontStyle": "italic"}},
         "detail": {"field": "c", "type": "nominal"},
         "order": {"field": "i", "type": "quantitative"}}},
      {"data": {"name": "pathsB"},
       "mark": {"type": "line", "strokeWidth": 1.4, "clip": true},
       "encoding": {"x": {"field": "r", "type": "quantitative"}, "y": {"field": "K", "type": "quantitative"},
         "color": {"field": "s", "type": "nominal", "scale": {"domain": ["ε = 0.02, L = 15", "ε = 0.04, L = 15", "ε = 0.7, L = 5"], "range": ["#000000", "#ff0000", "#0000ff"]},
           "legend": {"orient": "top-right", "title": null, "symbolType": "M-3,0L3,0", "symbolSize": 100, "symbolStrokeWidth": 1.5, "labelFontSize": 16.5, "labelOffset": 24, "rowPadding": 4, "offset": 8, "padding": 2}},
         "order": {"field": "i", "type": "quantitative"}}},
      {"data": {"name": "pathsB"},
       "transform": [
         {"window": [{"op": "lag", "field": "r", "as": "pr"}, {"op": "lag", "field": "K", "as": "pK"}], "groupby": ["s"], "sort": [{"field": "i", "order": "ascending"}]},
         {"filter": "isValid(datum.pr)"},
         {"calculate": "atan2(-(datum.K - datum.pK) * 0.1375, (datum.r - datum.pr) * 3936.3) * 180 / PI", "as": "ang"}],
       "mark": {"type": "point", "shape": "M-1,-0.6L0,0L-1,0.6", "filled": false, "strokeWidth": 1.3, "size": 220, "opacity": 1, "clip": true},
       "encoding": {"x": {"field": "r", "type": "quantitative"}, "y": {"field": "K", "type": "quantitative"},
         "color": {"field": "s", "type": "nominal", "legend": {"orient": "top-right", "title": null, "symbolType": "M-3,0L3,0", "symbolSize": 100, "symbolStrokeWidth": 1.5, "labelFontSize": 16.5, "labelOffset": 24, "rowPadding": 4, "offset": 8, "padding": 2}},
         "angle": {"field": "ang", "type": "quantitative", "scale": null}}},
      {"data": {"values": [{"r": 0.135, "K": 4551}]},
       "mark": {"type": "point", "filled": true, "color": "#000000", "size": 110, "opacity": 1},
       "encoding": {"x": {"field": "r", "type": "quantitative"}, "y": {"field": "K", "type": "quantitative"}}},
      {"data": {"values": [{"r": 0.049, "K": 6765, "t": "(b)"}]},
       "mark": {"type": "text", "align": "left", "baseline": "middle", "fontSize": 16.5},
       "encoding": {"x": {"field": "r", "type": "quantitative"}, "y": {"field": "K", "type": "quantitative"}, "text": {"field": "t"}}}
    ]
  },
  {
    "width": 383, "height": 356,
    "layer": [
      {"data": {"name": "circles"},
       "mark": {"type": "line", "interpolate": "cardinal-closed", "color": "#8c8c8c", "strokeWidth": 1, "strokeDash": [4, 3], "clip": true},
       "encoding": {
         "x": {"field": "x", "type": "quantitative", "scale": {"domain": [-2.7, 2.7], "nice": false, "zero": false}, "axis": {"values": [-2, -1, 0, 1, 2], "format": "d", "title": "x₁", "labelExpr": "replace(datum.label, '−', '-')"}},
         "y": {"field": "y", "type": "quantitative", "scale": {"domain": [-2.7, 2.7], "nice": false, "zero": false}, "axis": {"values": [-2, -1, 0, 1, 2], "format": "d", "title": "x₂", "labelExpr": "replace(datum.label, '−', '-')"}},
         "detail": {"field": "c", "type": "nominal"},
         "order": {"field": "i", "type": "quantitative"}}},
      {"data": {"name": "pathsC"},
       "mark": {"type": "line", "interpolate": "cardinal", "color": "#858585", "strokeWidth": 1.6, "clip": true},
       "encoding": {"x": {"field": "x", "type": "quantitative"}, "y": {"field": "y", "type": "quantitative"}, "detail": {"field": "s", "type": "nominal"}, "order": {"field": "i", "type": "quantitative"}}},
      {"data": {"name": "pathsC"},
       "transform": [
         {"window": [{"op": "lag", "field": "x", "as": "px"}, {"op": "lag", "field": "y", "as": "py"}], "groupby": ["s"], "sort": [{"field": "i", "order": "ascending"}]},
         {"filter": "isValid(datum.px)"},
         {"calculate": "atan2(-(datum.y - datum.py) * 65.93, (datum.x - datum.px) * 70.93) * 180 / PI", "as": "ang"}],
       "mark": {"type": "point", "shape": "M-1,-0.7L0,0L-1,0.7", "filled": false, "color": "#858585", "strokeWidth": 1.3, "size": 110, "opacity": 1, "clip": true},
       "encoding": {"x": {"field": "x", "type": "quantitative"}, "y": {"field": "y", "type": "quantitative"}, "angle": {"field": "ang", "type": "quantitative", "scale": null}}},
      {"data": {"values": [{"x": -1.17, "y": 0.79}, {"x": 0.12, "y": 0.85}, {"x": -0.11, "y": 0.38}, {"x": 0.66, "y": -0.85}, {"x": -0.2, "y": -1.35}]},
       "mark": {"type": "point", "filled": true, "color": "#000000", "size": 95, "opacity": 1},
       "encoding": {"x": {"field": "x", "type": "quantitative"}, "y": {"field": "y", "type": "quantitative"}}},
      {"data": {"values": [{"x": -1.05, "y": -0.48}]},
       "mark": {"type": "point", "filled": true, "color": "#ff0000", "size": 95, "opacity": 1},
       "encoding": {"x": {"field": "x", "type": "quantitative"}, "y": {"field": "y", "type": "quantitative"}}},
      {"data": {"values": [{"x": -2.56, "y": 2.43, "t": "(c)"}]},
       "mark": {"type": "text", "align": "left", "baseline": "middle", "fontSize": 16.5},
       "encoding": {"x": {"field": "x", "type": "quantitative"}, "y": {"field": "y", "type": "quantitative"}, "text": {"field": "t"}}}
    ]
  },
  {
    "width": 383, "height": 356,
    "layer": [
      {"data": {"values": [{"a": 0}, {"a": 1}]},
       "mark": {"type": "rule", "color": "#a6a6a6", "strokeWidth": 1.2},
       "encoding": {"y": {"field": "a", "type": "quantitative", "scale": {"domain": [-0.084, 2.184], "nice": false, "zero": false}, "axis": {"values": [0, 0.5, 1, 1.5, 2], "format": ".1f", "title": "Acceptance Ratio (α)"}}}},
      {"data": {"name": "acc"},
       "mark": {"type": "line", "strokeWidth": 1.5, "clip": true, "point": {"filled": true, "size": 50, "opacity": 1}},
       "encoding": {
         "x": {"field": "step", "type": "quantitative", "scale": {"domain": [-0.6, 15.6], "nice": false, "zero": false}, "axis": {"values": [0, 5, 10, 15], "title": "Step #"}},
         "y": {"field": "a", "type": "quantitative"},
         "color": {"field": "s", "type": "nominal", "scale": {"domain": ["b", "r", "u"], "range": ["#000000", "#ff0000", "#0000ff"]}, "legend": null},
         "order": {"field": "step", "type": "quantitative"}}},
      {"data": {"values": [{"step": -0.18, "a": 2.07, "t": "(d)"}]},
       "mark": {"type": "text", "align": "left", "baseline": "middle", "fontSize": 16.5},
       "encoding": {"x": {"field": "step", "type": "quantitative"}, "y": {"field": "a", "type": "quantitative"}, "text": {"field": "t"}}}
    ]
  },
  {
    "width": 383, "height": 356,
    "layer": [
      {"data": {"name": "banana"},
       "mark": {"type": "line", "interpolate": "cardinal-closed", "color": "#8c8c8c", "strokeWidth": 1, "strokeDash": [4, 3], "clip": true},
       "encoding": {
         "x": {"field": "r", "type": "quantitative", "scale": {"domain": [0.0465, 0.1438], "nice": false, "zero": false}, "axis": {"values": [0.06, 0.08, 0.1, 0.12, 0.14], "format": ".2f", "title": "r", "titleFontStyle": "italic"}},
         "y": {"field": "K", "type": "quantitative", "scale": {"domain": [4309, 6898], "nice": false, "zero": false}, "axis": {"values": [4500, 5000, 5500, 6000, 6500], "format": "d", "title": "K", "titleFontStyle": "italic"}},
         "detail": {"field": "c", "type": "nominal"},
         "order": {"field": "i", "type": "quantitative"}}},
      {"data": {"name": "rwm"},
       "mark": {"type": "point", "filled": true, "size": 55, "opacity": 0.85},
       "encoding": {"x": {"field": "r", "type": "quantitative"}, "y": {"field": "K", "type": "quantitative"},
         "color": {"field": "g", "type": "nominal", "scale": {"domain": ["Initial State", "Without Mass Matrix", "With Mass Matrix"], "range": ["#ff0000", "#0000ff", "#000000"]},
           "legend": {"orient": "bottom-left", "title": null, "symbolSize": 60, "labelFontSize": 16.5, "labelOffset": 12, "rowPadding": 3.5, "offset": 10, "padding": 0, "symbolOpacity": 1}},
         "shape": {"field": "g", "type": "nominal", "scale": {"domain": ["Initial State", "Without Mass Matrix", "With Mass Matrix"], "range": ["square", "M0,-1.3L1.15,0.7L-1.15,0.7Z", "circle"]},
           "legend": {"orient": "bottom-left", "title": null, "symbolSize": 60, "labelFontSize": 16.5, "labelOffset": 12, "rowPadding": 3.5, "offset": 10, "padding": 0, "symbolOpacity": 1}}}},
      {"data": {"values": [{"r": 0.095, "K": 6738, "t": "Random Walk Metropolis"}]},
       "mark": {"type": "text", "align": "center", "baseline": "middle", "fontSize": 23},
       "encoding": {"x": {"field": "r", "type": "quantitative"}, "y": {"field": "K", "type": "quantitative"}, "text": {"field": "t"}}},
      {"data": {"values": [{"r": 0.049, "K": 6762, "t": "(e)"}]},
       "mark": {"type": "text", "align": "left", "baseline": "middle", "fontSize": 16.5},
       "encoding": {"x": {"field": "r", "type": "quantitative"}, "y": {"field": "K", "type": "quantitative"}, "text": {"field": "t"}}}
    ]
  },
  {
    "width": 383, "height": 356,
    "layer": [
      {"data": {"name": "banana"},
       "mark": {"type": "line", "interpolate": "cardinal-closed", "color": "#8c8c8c", "strokeWidth": 1, "strokeDash": [4, 3], "clip": true},
       "encoding": {
         "x": {"field": "r", "type": "quantitative", "scale": {"domain": [0.0465, 0.1438], "nice": false, "zero": false}, "axis": {"values": [0.06, 0.08, 0.1, 0.12, 0.14], "format": ".2f", "title": "r", "titleFontStyle": "italic"}},
         "y": {"field": "K", "type": "quantitative", "scale": {"domain": [4309, 6898], "nice": false, "zero": false}, "axis": {"values": [4500, 5000, 5500, 6000, 6500], "format": "d", "title": "K", "titleFontStyle": "italic"}},
         "detail": {"field": "c", "type": "nominal"},
         "order": {"field": "i", "type": "quantitative"}}},
      {"data": {"name": "nuts"},
       "mark": {"type": "point", "filled": true, "size": 55, "opacity": 0.85},
       "encoding": {"x": {"field": "r", "type": "quantitative"}, "y": {"field": "K", "type": "quantitative"},
         "color": {"field": "g", "type": "nominal", "scale": {"domain": ["Initial State", "Without Mass Matrix", "With Mass Matrix"], "range": ["#ff0000", "#0000ff", "#000000"]},
           "legend": {"orient": "bottom-left", "title": null, "symbolSize": 60, "labelFontSize": 16.5, "labelOffset": 12, "rowPadding": 3.5, "offset": 10, "padding": 0, "symbolOpacity": 1}},
         "shape": {"field": "g", "type": "nominal", "scale": {"domain": ["Initial State", "Without Mass Matrix", "With Mass Matrix"], "range": ["square", "M0,-1.3L1.15,0.7L-1.15,0.7Z", "circle"]},
           "legend": {"orient": "bottom-left", "title": null, "symbolSize": 60, "labelFontSize": 16.5, "labelOffset": 12, "rowPadding": 3.5, "offset": 10, "padding": 0, "symbolOpacity": 1}}}},
      {"data": {"values": [{"r": 0.0951, "K": 6738, "t": "No-U-Turn Sampler"}]},
       "mark": {"type": "text", "align": "center", "baseline": "middle", "fontSize": 23},
       "encoding": {"x": {"field": "r", "type": "quantitative"}, "y": {"field": "K", "type": "quantitative"}, "text": {"field": "t"}}},
      {"data": {"values": [{"r": 0.0494, "K": 6762, "t": "(f)"}]},
       "mark": {"type": "text", "align": "left", "baseline": "middle", "fontSize": 16.5},
       "encoding": {"x": {"field": "r", "type": "quantitative"}, "y": {"field": "K", "type": "quantitative"}, "text": {"field": "t"}}}
    ]
  }
]
}
